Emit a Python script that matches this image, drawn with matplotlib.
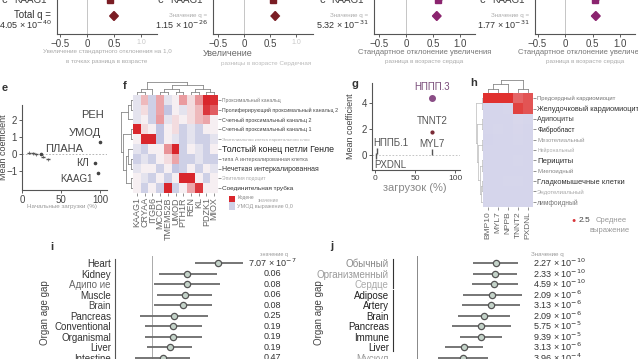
import matplotlib
matplotlib.use('Agg')
import matplotlib.pyplot as plt
import matplotlib.transforms as mtransforms
from matplotlib.colors import LinearSegmentedColormap
from matplotlib.patches import Polygon
import numpy as np

plt.rcParams['font.family'] = ['Liberation Sans', 'DejaVu Sans']

# ---------------- data ----------------
# panel c (cut at top): total effect and one gene row per panel
top_total = [0.50, 0.60, 0.57, 0.56]
top_total_lo = [0.42, 0.52, 0.49, 0.48]
top_total_hi = [0.58, 0.68, 0.65, 0.64]
top_gene = [0.43, 0.56, 0.60, 0.55]
top_colors = ['#7a1d24', '#7a1d24', '#8b246f', '#8b246f']
top_q_head = ['Total q =', 'Значение q =', 'Значение q =', 'Значение q =']
top_q_val = ['4.05 × 10$^{-40}$', '1.15 × 10$^{-26}$', '5.32 × 10$^{-31}$', '1.77 × 10$^{-31}$']
top_xlab1 = ['Увеличение стандартного отклонения на 1,0', 'Увеличение',
             'Стандартное отклонение увеличения', 'Стандартное отклонение увеличения']
top_xlab2 = ['в точках разница в возрасте', 'разницы в возрасте Сердечная',
             'разница в возрасте сердца', 'разница в возрасте сердца']
top_ticks = [-0.5, 0, 0.5, 1.0]

# panel e
e_x = [9, 14, 18, 27, 33]
e_y = [0.10, 0.05, 0.0, -0.15, -0.30]
e_genes = ['PEH', 'УМОД', 'ПЛАНА', 'КЛ', 'KAAG1']
e_gx = [100, 100, 24, 93, 98]
e_gy = [2.3, 0.7, 0.0, -0.5, -1.1]

# panel f heatmap
f_cols = ['KAAG1', 'CRYAA', 'ITGB6', 'MCCD1', 'TMEM52B', 'UMOD', 'PTH1R', 'REN', 'KL', 'PDZK1', 'MIOX']
f_rows = ['Проксимальный канальц', 'Пролиферирующий проксимальный канальц 2',
          'Счетный проксимальный канальц 2', 'Счетный проксимальный канальц 1',
          'Эпителиальная клетка париетального слоя', 'Толстый конец петли Генле',
          'типа А интеркалированная клетка', 'Нечеткая интеркалированная',
          'Эпителия подоцит', 'Соединительная трубка']
f_vals = np.array([
    [-0.3, 0.2, -0.5, 0.3, -0.3, -0.1, 0.35, 0.0, 0.4, 1.0, 0.95],
    [-0.3, 0.0, -0.5, 0.3, -0.6, -0.1, -0.3, 0.0, 0.2, 0.9, 0.7],
    [-0.3, -0.1, -0.5, 0.35, -0.3, 0.0, -0.1, 0.0, 0.2, 0.3, -0.1],
    [1.0, 0.0, -0.1, -0.6, -0.1, 0.0, -0.5, -0.3, -0.5, -0.1, -0.1],
    [-0.1, 1.0, 1.0, -0.6, -0.1, -0.3, -0.5, -0.3, -0.5, -0.5, -0.3],
    [-0.3, -0.5, -0.1, -0.1, 0.4, 1.0, -0.5, -0.1, -0.3, -0.5, -0.1],
    [-0.5, -0.3, -0.5, -0.1, 0.0, 0.3, -0.5, -0.5, -0.3, -0.5, -0.5],
    [-0.3, -0.1, -0.1, -0.5, -0.1, -0.6, -0.5, -0.1, -0.5, -0.1, -0.3],
    [-0.1, -0.3, -0.5, -0.1, -0.5, -0.1, 1.0, 1.0, -0.1, -0.5, -0.1],
    [-0.1, -0.5, -0.1, -0.5, 1.0, -0.5, -0.1, 0.3, 0.9, -0.1, -0.1],
])
f_col_tree = (((0, 1), 2), (((3, 4), (5, 6)), ((7, 8), (9, 10))))
f_row_tree = (((0, 1), 2), ((3, 4), ((5, (6, 7)), (8, 9))))

# panel g
g_genes = ['НППП.3', 'TNNT2', 'MYL7', 'НППБ.1', 'PXDNL']
g_x = [71, 71, 71, 2, 1.5]
g_y = [4.4, 1.75, 0.2, 0.3, -0.1]

# panel h heatmap
h_cols = ['BMP10', 'MYL7', 'NPPB', 'TNNT2', 'PXDNL']
h_rows = ['Предсердный кардиомиоцит', 'Желудочковый кардиомиоцит', 'Адипоциты', 'Фибробласт',
          'Мезотелиальный', 'Нейрональный', 'Перициты', 'Миелоидный',
          'Гладкомышечные клетки', 'Эндотелиальный', 'лимфоидный']
h_vals = np.array([
    [1.0, 1.0, 1.0, 0.85, 0.9],
    [0.05, 0.05, 0.06, 0.95, 0.9],
    [0.04, 0.05, 0.04, 0.10, 0.06],
    [0.05, 0.06, 0.05, 0.08, 0.05],
    [0.03, 0.04, 0.05, 0.06, 0.05],
    [0.04, 0.05, 0.04, 0.05, 0.04],
    [0.05, 0.04, 0.05, 0.06, 0.05],
    [0.04, 0.05, 0.04, 0.05, 0.04],
    [0.05, 0.05, 0.06, 0.06, 0.05],
    [0.04, 0.04, 0.05, 0.05, 0.04],
    [0.05, 0.04, 0.05, 0.05, 0.05],
])
h_col_tree = (((0, 1), 2), (3, 4))
h_row_tree = ((0, 1), ((2, 3), ((4, 5), ((6, 7), ((8, 9), 10)))))

# panel i
i_organs = ['Heart', 'Kidney', 'Адипо ие', 'Muscle', 'Brain', 'Pancreas',
            'Conventional', 'Organismal', 'Liver', 'Intestine']
i_est = [1.07, 0.57, 0.57, 0.53, 0.50, 0.36, 0.34, 0.34, 0.29, 0.18]
i_lo = [0.70, 0.11, 0.03, 0.08, 0.03, -0.19, -0.11, -0.11, -0.08, -0.28]
i_hi = [1.47, 1.05, 1.10, 0.97, 0.97, 0.91, 0.81, 0.81, 0.65, 0.62]
i_q = ['7.07 × 10$^{-7}$', '0.06', '0.08', '0.06', '0.08', '0.25', '0.19', '0.19', '0.19', '0.47']

# panel j
j_organs = ['Обычный', 'Организменный', 'Сердце', 'Adipose', 'Artery', 'Brain',
            'Pancreas', 'Immune', 'Liver', 'Мускул']
j_est = [1.28, 1.26, 1.25, 1.22, 1.20, 1.09, 1.04, 1.04, 0.76, 0.75]
j_lo = [0.91, 0.91, 0.89, 0.75, 0.73, 0.66, 0.57, 0.70, 0.45, 0.34]
j_hi = [1.64, 1.62, 1.64, 1.70, 1.67, 1.51, 1.52, 1.38, 1.07, 1.15]
j_q = ['2.27 × 10$^{-10}$', '2.33 × 10$^{-10}$', '4.59 × 10$^{-10}$', '2.09 × 10$^{-6}$',
       '3.13 × 10$^{-6}$', '2.09 × 10$^{-6}$', '5.75 × 10$^{-5}$', '9.39 × 10$^{-5}$',
       '3.13 × 10$^{-6}$', '3.96 × 10$^{-4}$']
j_groups = [(0, 2), (3, 8)]

# ---------------- layout helpers ----------------
W, H = 638, 359
fig = plt.figure(figsize=(W / 100, H / 100), dpi=100)


def add_ax(x0, y0, x1, y1):
    return fig.add_axes([x0 / W, 1 - y1 / H, (x1 - x0) / W, (y1 - y0) / H])


def ftxt(x, y, s, **kw):
    kw.setdefault('va', 'center')
    fig.text(x / W, 1 - y / H, s, **kw)


def draw_tree(ax, tree, side, color='#888', lw=0.6):
    def walk(node):
        if isinstance(node, int):
            return node, 0
        lp, lh = walk(node[0])
        rp, rh = walk(node[1])
        h = max(lh, rh) + 1
        for p, ch in [(lp, lh), (rp, rh)]:
            if side == 'top':
                ax.plot([p, p], [ch, h], color=color, lw=lw)
            else:
                ax.plot([ch, h], [p, p], color=color, lw=lw)
        if side == 'top':
            ax.plot([lp, rp], [h, h], color=color, lw=lw)
        else:
            ax.plot([h, h], [lp, rp], color=color, lw=lw)
        return (lp + rp) / 2, h
    _, top = walk(tree)
    ax.axis('off')
    return top


def clean(ax):
    for s in ['top', 'right']:
        ax.spines[s].set_visible(False)
    for s in ['left', 'bottom']:
        ax.spines[s].set_color('#555')
        ax.spines[s].set_linewidth(0.8)
    ax.tick_params(colors='#444', labelsize=7, length=2, width=0.6, pad=1.5)


# ---------------- panel c (top strip) ----------------
top_left_px = [57, 213, 374, 535]
top_zero_px = [87, 244, 406, 565]
top_unit_px = [54, 52, 54, 55]
top_right_px = [157, 313, 475, 635]
for k in range(4):
    ax = add_ax(top_left_px[k], -6, top_right_px[k], 34)
    clean(ax)
    ax.set_xlim((top_left_px[k] - top_zero_px[k]) / top_unit_px[k],
                (top_right_px[k] - top_zero_px[k]) / top_unit_px[k])
    ax.set_ylim(-1.125, 1.375)
    ax.set_yticks([])
    ax.axvline(0, color='#bbb', lw=0.6)
    ax.set_xticks(top_ticks)
    ax.set_xticklabels(['−0.5', '0', '0.5', '1.0'])
    if k < 2:
        lab = ax.get_xticklabels()[-1]
        lab.set_color('#c8c8c8')
        lab.set_fontsize(5)
    d = Polygon([[top_total_lo[k], 0], [top_total[k], 0.28], [top_total_hi[k], 0],
                 [top_total[k], -0.28]], closed=True, color=top_colors[k])
    ax.add_patch(d)
    ax.errorbar([top_gene[k]], [1], xerr=[[0.06], [0.06]], fmt='s', ms=4,
                color=top_colors[k], ecolor='#999', elinewidth=0.8)
    xc = top_left_px[k]
    ftxt(xc - 6, 15, top_q_head[k], ha='right', fontsize=7 if k == 0 else 4.5,
         color='#333' if k == 0 else '#aaa')
    ftxt(xc - 5, 25, top_q_val[k], ha='right', fontsize=6.5, color='#333')
    ftxt(xc - 10, 0, 'KAAG1', ha='right', fontsize=7, color='#444')
    ftxt(xc - 55, 0, 'c', ha='left', fontsize=8, color='#444')
    mid = (top_left_px[k] + top_right_px[k]) / 2
    if k == 1:
        ftxt(xc - 10, 54, top_xlab1[k], ha='left', fontsize=6.5, color='#666')
        ftxt(mid + 3, 63, top_xlab2[k], ha='center', fontsize=4.5, color='#bbb')
    elif k == 0:
        ftxt(mid, 52, top_xlab1[k], ha='center', fontsize=4.5, color='#aaa')
        ftxt(mid, 62, top_xlab2[k], ha='center', fontsize=4.5, color='#aaa')
    else:
        ftxt(mid, 52, top_xlab1[k], ha='center', fontsize=5.5, color='#777')
        ftxt(mid, 62, top_xlab2[k], ha='center', fontsize=4.5, color='#aaa')

# ---------------- panel e ----------------
ax = add_ax(22, 105, 107, 190)
clean(ax)
ax.set_xlim(0, 109)
ax.set_ylim(-2.1, 2.9)
ax.set_xticks([0, 50, 100])
ax.set_yticks([-1, 0, 1, 2])
ax.set_yticklabels(['−1', '0', '1', '2'])
ax.axhline(0, color='#aaa', lw=0.6, ls=(0, (2, 2)))
ax.errorbar(e_x, e_y, yerr=0.08, fmt='_', ms=3, color='#555', elinewidth=0.5)
ax.plot(e_gx[1:], e_gy[1:], 'o', ms=1.6, color='#444')
e_off = [(3, 0), (1, 7), (3, 4), (-4, 0), (-4, -4)]
e_ha = ['right', 'right', 'left', 'right', 'right']
e_size = [8, 8, 8, 7.5, 7]
for g, x, y, o, ha, s in zip(e_genes, e_gx, e_gy, e_off, e_ha, e_size):
    ax.annotate(g, (x, y), xytext=o, textcoords='offset points', ha=ha, va='center',
                fontsize=s, color='#444')
ax.set_ylabel('Mean coefficient', fontsize=6.5, color='#444')
ax.yaxis.set_label_coords(-0.17, 0.5)
ftxt(62, 207, 'Начальные загрузки (%)', ha='center', fontsize=4.5, color='#999')
ftxt(2, 88, 'e', ha='left', fontsize=8, weight='bold', color='#333')

# ---------------- panel f ----------------
cmap_f = LinearSegmentedColormap.from_list('f', ['#7d88c8', '#f7f4f6', '#d9262c'])
ax = add_ax(133, 95, 218, 193)
ax.imshow(f_vals, cmap=cmap_f, vmin=-1.25, vmax=1.0, aspect='auto')
ax.set_xticks(range(len(f_cols)))
ax.set_xticklabels(f_cols, rotation=90, fontsize=6.5, color='#444')
ax.set_yticks(range(len(f_rows)))
ax.set_yticklabels(f_rows)
ax.yaxis.tick_right()
ax.tick_params(length=2, width=0.5, colors='#666', pad=1)
f_size = [3.6, 3.8, 3.9, 3.9, 3.2, 6.3, 3.9, 5.0, 3.6, 4.6]
f_col = ['#777', '#444', '#444', '#444', '#aaa', '#222', '#666', '#333', '#aaa', '#333']
for t, s, c in zip(ax.get_yticklabels(), f_size, f_col):
    t.set_fontsize(s)
    t.set_color(c)
for sp in ax.spines.values():
    sp.set_visible(False)
axd = add_ax(133, 82, 218, 95)
top = draw_tree(axd, f_col_tree, 'top')
axd.set_xlim(-0.5, len(f_cols) - 0.5)
axd.set_ylim(0, top)
axd = add_ax(121, 95, 133, 193)
top = draw_tree(axd, f_row_tree, 'left')
axd.set_ylim(len(f_rows) - 0.5, -0.5)
axd.set_xlim(top, 0)
ftxt(123, 86, 'f', ha='left', fontsize=8, weight='bold', color='#333')
# small legend
axl = add_ax(229, 196, 235, 210)
axl.imshow([[1.0], [-0.5]], cmap=cmap_f, vmin=-1.25, vmax=1.0, aspect='auto')
axl.axis('off')
ftxt(238, 197, 'Кодене', ha='left', fontsize=3.5, color='#888')
ftxt(258, 201, 'значение', ha='left', fontsize=3.5, color='#aaa')
ftxt(237, 207, 'УМОД выражение 0,0', ha='left', fontsize=4, color='#999')

# ---------------- panel g ----------------
ax = add_ax(372, 83, 460, 170)
clean(ax)
ax.set_xlim(-3.75, 106)
ax.set_ylim(-1.15, 5.54)
ax.set_xticks([0, 50, 100])
ax.set_xticklabels(['0', '50', '100'], fontsize=6)
ax.set_yticks([0, 2, 4])
ax.axhline(0, color='#bbb', lw=0.6, ls=(0, (2, 2)))
ax.plot(g_x[0], g_y[0], 'o', ms=4, color='#8a4d86')
ax.plot(g_x[1], g_y[1], 'o', ms=2, color='#7a2a35')
ax.plot(g_x[2:], g_y[2:], '|', ms=4, color='#555')
g_off = [(0, 8), (0, 8), (0, 6), (10, 6), (10, -6)]
g_col = ['#7a4d7a', '#555', '#555', '#555', '#555']
for g, x, y, o, c in zip(g_genes, g_x, g_y, g_off, g_col):
    ax.annotate(g, (x, y), xytext=o, textcoords='offset points', ha='center', va='center',
                fontsize=7, color=c)
ax.set_ylabel('Mean coefficient', fontsize=6.5, color='#444')
ax.yaxis.set_label_coords(-0.19, 0.5)
ftxt(415, 188, 'загрузок (%)', ha='center', fontsize=8, color='#888')
ftxt(352, 84, 'g', ha='left', fontsize=8, weight='bold', color='#333')

# ---------------- panel h ----------------
cmap_h = LinearSegmentedColormap.from_list('h', ['#d3d4eb', '#efe6ee', '#e0312f'])
ax = add_ax(483, 93, 533, 207)
ax.imshow(h_vals, cmap=cmap_h, vmin=0, vmax=1.0, aspect='auto')
ax.set_xticks(range(len(h_cols)))
ax.set_xticklabels(h_cols, rotation=90, fontsize=6, color='#444')
ax.set_yticks(range(len(h_rows)))
ax.set_yticklabels(h_rows)
ax.yaxis.tick_right()
ax.tick_params(length=2, width=0.5, colors='#666', pad=1)
h_size = [4.2, 5.3, 5.2, 4.8, 4.3, 3.8, 5.6, 4.3, 5.4, 4.3, 4.8]
h_col = ['#777', '#333', '#444', '#222', '#999', '#aaa', '#333', '#888', '#333', '#aaa', '#777']
for t, s, c in zip(ax.get_yticklabels(), h_size, h_col):
    t.set_fontsize(s)
    t.set_color(c)
for sp in ax.spines.values():
    sp.set_visible(False)
axd = add_ax(483, 80, 533, 93)
top = draw_tree(axd, h_col_tree, 'top')
axd.set_xlim(-0.5, len(h_cols) - 0.5)
axd.set_ylim(0, top)
axd = add_ax(476, 93, 483, 207)
top = draw_tree(axd, h_row_tree, 'left', color='#bbb', lw=0.5)
axd.set_ylim(len(h_rows) - 0.5, -0.5)
axd.set_xlim(top, 0)
ftxt(470, 83, 'h', ha='left', fontsize=8, weight='bold', color='#333')
ftxt(574, 221, '●', ha='center', fontsize=5, color='#d8353a')
ftxt(579, 221, '2.5', ha='left', fontsize=6, color='#444')
ftxt(596, 221, 'Среднее', ha='left', fontsize=5.5, color='#999')
ftxt(590, 231, 'выражение', ha='left', fontsize=5.5, color='#999')


# ---------------- panels i and j ----------------
def forest(ax, est, lo, hi, names, qvals, qx, qha, name_col):
    n = len(est)
    rows = np.arange(n)
    ax.hlines(rows, lo, hi, color='#6b6b6b', lw=1.3)
    ax.plot(est, rows, 'o', ms=4.5, mfc='#c4d3c9', mec='#555', mew=0.9)
    ax.set_yticks(rows)
    ax.set_yticklabels(names, fontsize=7)
    for t, c in zip(ax.get_yticklabels(), name_col):
        t.set_color(c)
    ax.set_xticks([])
    ax.tick_params(axis='y', length=0, pad=3)
    trans = mtransforms.blended_transform_factory(ax.transAxes, ax.transData)
    for r, q in zip(rows, qvals):
        ax.text(qx, r, q, transform=trans, ha=qha, va='center', fontsize=6.5, color='#333')
    for s in ['top', 'right', 'bottom']:
        ax.spines[s].set_visible(False)
    ax.set_ylim(10.19, -0.667)
    ax.set_ylabel('Organ age gap', fontsize=7, color='#444')
    return trans


ax = add_ax(115, 256, 300, 370)
ax.set_xlim(-0.6, 2.4)
ax.axvline(0, color='#aaa', lw=0.7)
trans = forest(ax, i_est, i_lo, i_hi, i_organs, i_q, 0.85, 'center',
               ['#333', '#333', '#666', '#333', '#444', '#333', '#333', '#333', '#333', '#333'])
ax.spines['left'].set_color('#555')
ax.spines['left'].set_bounds(-0.4, 10.19)
ax.yaxis.set_label_coords(-0.35, 0.5)
ax.text(0.86, -0.6, 'значение q', transform=trans, ha='center', va='bottom', fontsize=4, color='#999')
ftxt(50, 247, 'i', ha='left', fontsize=8, weight='bold', color='#333')

ax = add_ax(393, 256, 600, 370)
ax.set_xlim(-0.39, 2.97)
ax.axvline(0, color='#888', lw=0.7)
trans = forest(ax, j_est, j_lo, j_hi, j_organs, j_q, 0.676, 'left',
               ['#888', '#999', '#aaa', '#222', '#222', '#222', '#222', '#222', '#222', '#999'])
ax.spines['left'].set_visible(False)
ax.yaxis.set_label_coords(-0.335, 0.5)
for a, b in j_groups:
    ax.plot([0, 0], [a - 0.4, b + 0.4], transform=trans, color='#333', lw=0.8, clip_on=False)
ax.text(0.745, -0.6, 'Значение q', transform=trans, ha='center', va='bottom', fontsize=4.5, color='#999')
ftxt(330, 246, 'j', ha='left', fontsize=8, weight='bold', color='#333')

fig.savefig('out.png', dpi=100)
